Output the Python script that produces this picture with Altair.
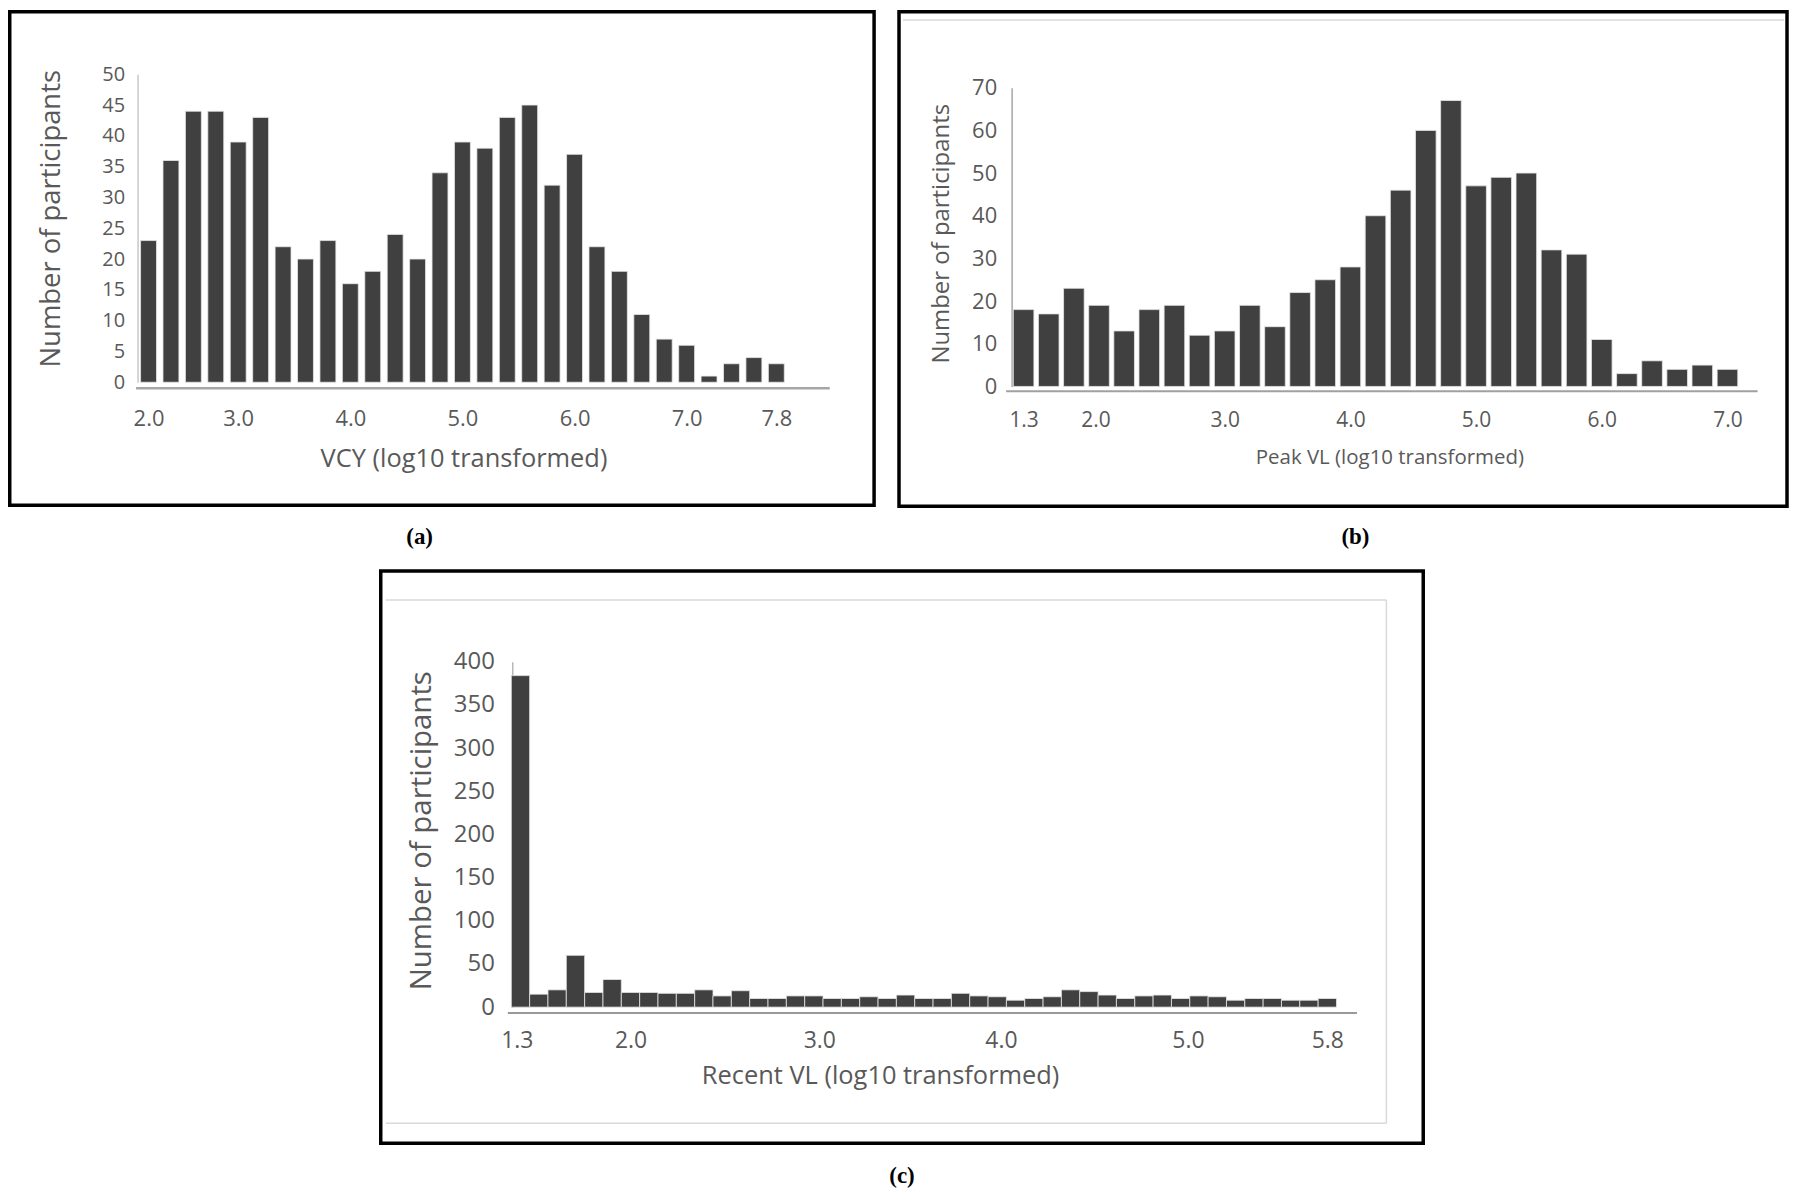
import json
import altair as alt
import pandas as pd

# ---------------- data ----------------
# (a) VCY
a_counts = [23, 36, 44, 44, 39, 43, 22, 20, 23, 16, 18, 24, 20, 34, 39, 38, 43, 45,
            32, 37, 22, 18, 11, 7, 6, 1, 3, 4, 3]
a_tick_pos = [0, 4, 9, 14, 19, 24, 28]
a_tick_labels = ["2.0", "3.0", "4.0", "5.0", "6.0", "7.0", "7.8"]
a_y_ticks = [0, 5, 10, 15, 20, 25, 30, 35, 40, 45, 50]

# (b) Peak VL
b_counts = [18, 17, 23, 19, 13, 18, 19, 12, 13, 19, 14, 22, 25, 28, 40, 46, 60, 67,
            47, 49, 50, 32, 31, 11, 3, 6, 4, 5, 4]
b_tick_pos = [0, 2.86, 8, 13, 18, 23, 28]
b_tick_labels = ["1.3", "2.0", "3.0", "4.0", "5.0", "6.0", "7.0"]
b_y_ticks = [0, 10, 20, 30, 40, 50, 60, 70]

# (c) Recent VL
c_counts = [384, 15, 20, 60, 17, 32, 17, 17, 16, 16, 20, 13, 19, 10, 10, 13, 13, 10,
            10, 12, 10, 14, 10, 10, 16, 13, 12, 8, 10, 12, 20, 18, 14, 10, 13, 14,
            10, 13, 12, 8, 10, 10, 8, 8, 10]
c_tick_pos = [-0.2, 6, 16.3, 26.2, 36.4, 44]
c_tick_labels = ["1.3", "2.0", "3.0", "4.0", "5.0", "5.8"]
c_y_ticks = [0, 50, 100, 150, 200, 250, 300, 350, 400]

y_title = "Number of participants"
x_titles = ["VCY (log10 transformed)", "Peak VL (log10 transformed)",
            "Recent VL (log10 transformed)"]
panel_labels = ["(a)", "(b)", "(c)"]

# ---------------- layout / style ----------------
W, H = 1790, 1188
M = 8
TEXT = "#595959"
BAR = "#404040"
FONT = "Open Sans"
one = pd.DataFrame({"k": [0]})


def hist(counts, half, tick_pos, tick_labels, y_ticks, y_max, x_title, g, st):
    df = pd.DataFrame({"bin": list(range(len(counts))), "count": counts})
    label_expr = "%s[indexof(%s, datum.value)]" % (json.dumps(tick_labels), json.dumps(tick_pos))
    xs = alt.Scale(domain=[g["i0"], g["i1"]], range=[g["xl"] - M, g["xr"] - M],
                   nice=False, zero=False)
    ys = alt.Scale(domain=[0, y_max], range=[g["y0"] - M, g["ytop"] - M], nice=False)
    xa = alt.Axis(orient="bottom", offset=g["xaxis_y"] - M - H, values=tick_pos,
                  labelExpr=label_expr, ticks=False, tickSize=0, grid=False,
                  labelFlush=False, labelOverlap=False, labelPadding=st["xlp"],
                  labelFontSize=st["xlf"], labelFont=FONT, labelColor=TEXT,
                  domainColor=st["xdc"], domainWidth=st["xdw"],
                  title=x_title, titleFont=FONT, titleFontSize=st["xtf"],
                  titleFontWeight="normal", titleColor=TEXT,
                  titleX=g["xtx"] - M, titleY=g["xty"] - g["xaxis_y"],
                  titleAlign="center", titleBaseline="middle")
    ya = alt.Axis(orient="left", offset=-(g["yaxis_x"] - M), values=y_ticks,
                  ticks=False, tickSize=0, grid=False, labelOverlap=False,
                  labelPadding=st["ylp"], labelFontSize=st["ylf"], labelFont=FONT,
                  labelColor=TEXT, domainColor=st["ydc"], domainWidth=st["ydw"],
                  title=y_title, titleFont=FONT, titleFontSize=st["ytf"],
                  titleFontWeight="normal", titleColor=TEXT, titleAngle=270,
                  titleX=g["ytx"] - g["yaxis_x"], titleY=g["yty"] - M,
                  titleAlign="center", titleBaseline="middle")
    return alt.Chart(df).mark_bar(color=BAR, stroke="#e6e6e6", strokeWidth=0.8).transform_calculate(
        lo=f"datum.bin - {half}", hi=f"datum.bin + {half}", base="0"
    ).encode(
        x=alt.X("lo:Q", scale=xs, axis=xa),
        x2="hi",
        y=alt.Y("count:Q", scale=ys, axis=ya),
        y2="base",
    )


def frame(x1, x2, y1, y2):
    return alt.Chart(one).mark_rect(fill="transparent", stroke="black", strokeWidth=3.5).encode(
        x=alt.value(max(x1 - M, 1.75)), x2=alt.value(min(x2 - M, W - 1.75)),
        y=alt.value(max(y1 - M, 1.75)), y2=alt.value(min(y2 - M, H - 1.75)))


def hline(x1, x2, y):
    return alt.Chart(one).mark_rule(color="#d9d9d9", strokeWidth=1.5).encode(
        x=alt.value(x1 - M), x2=alt.value(x2 - M), y=alt.value(y - M))


def vline(x, y1, y2):
    return alt.Chart(one).mark_rule(color="#d9d9d9", strokeWidth=1.5).encode(
        x=alt.value(x - M), y=alt.value(y1 - M), y2=alt.value(y2 - M))


def plabel(text, x, y):
    return alt.Chart(one).mark_text(font="Liberation Serif", fontWeight="bold", fontSize=23,
                                    color="black", align="center", baseline="middle").encode(
        x=alt.value(x - M), y=alt.value(y - M), text=alt.value(text))


ga = dict(i0=-0.578, i1=30.36, xl=136, xr=832, y0=381.5, ytop=72.5, xaxis_y=387,
          yaxis_x=138, xtx=465, xty=458, ytx=52, yty=217)
sa = dict(xlp=21, xlf=22, ylp=13, ylf=20, xtf=25.5, ytf=27.5,
          xdc="#a6a6a6", xdw=2.5, ydc="#c8c8c8", ydw=1.5)

gb = dict(i0=-0.714, i1=29.18, xl=1009, xr=1763, y0=385.7, ytop=86, xaxis_y=390,
          yaxis_x=1015, xtx=1394, xty=457, ytx=945, yty=232)
sb = dict(xlp=19, xlf=21, ylp=15, ylf=22, xtf=20.5, ytf=24,
          xdc="#a0a0a0", xdw=2, ydc="#a6a6a6", ydw=1.5)

gc = dict(i0=-0.717, i1=45.59, xl=509, xr=1361, y0=1008.5, ytop=662, xaxis_y=1014,
          yaxis_x=514, xtx=883, xty=1077, ytx=423, yty=831)
sc = dict(xlp=17, xlf=23, ylp=18, ylf=24, xtf=25.5, ytf=29.5,
          xdc="#999999", xdw=2, ydc="#a6a6a6", ydw=1.2)

layers = [
    hline(906, 1790, 18),
    hline(387, 1391, 600), vline(1391, 600, 1125), hline(387, 1391, 1125),
    frame(5, 877, 7, 505), frame(902, 1793, 7, 506), frame(382, 1428, 571, 1145),
    hist(a_counts, 0.355, a_tick_pos, a_tick_labels, a_y_ticks, 50, x_titles[0], ga, sa),
    hist(b_counts, 0.41, b_tick_pos, b_tick_labels, b_y_ticks, 70, x_titles[1], gb, sb),
    hist(c_counts, 0.5, c_tick_pos, c_tick_labels, c_y_ticks, 400, x_titles[2], gc, sc),
    plabel(panel_labels[0], 421, 537), plabel(panel_labels[1], 1360, 537),
    plabel(panel_labels[2], 905, 1178),
]

chart = alt.layer(*layers).resolve_scale(x="independent", y="independent").properties(
    width=W, height=H, autosize=alt.AutoSizeParams(type="none"), padding=0
).configure_view(stroke=None)

chart.save("out.html", embed_options={"renderer": "svg", "actions": False})
